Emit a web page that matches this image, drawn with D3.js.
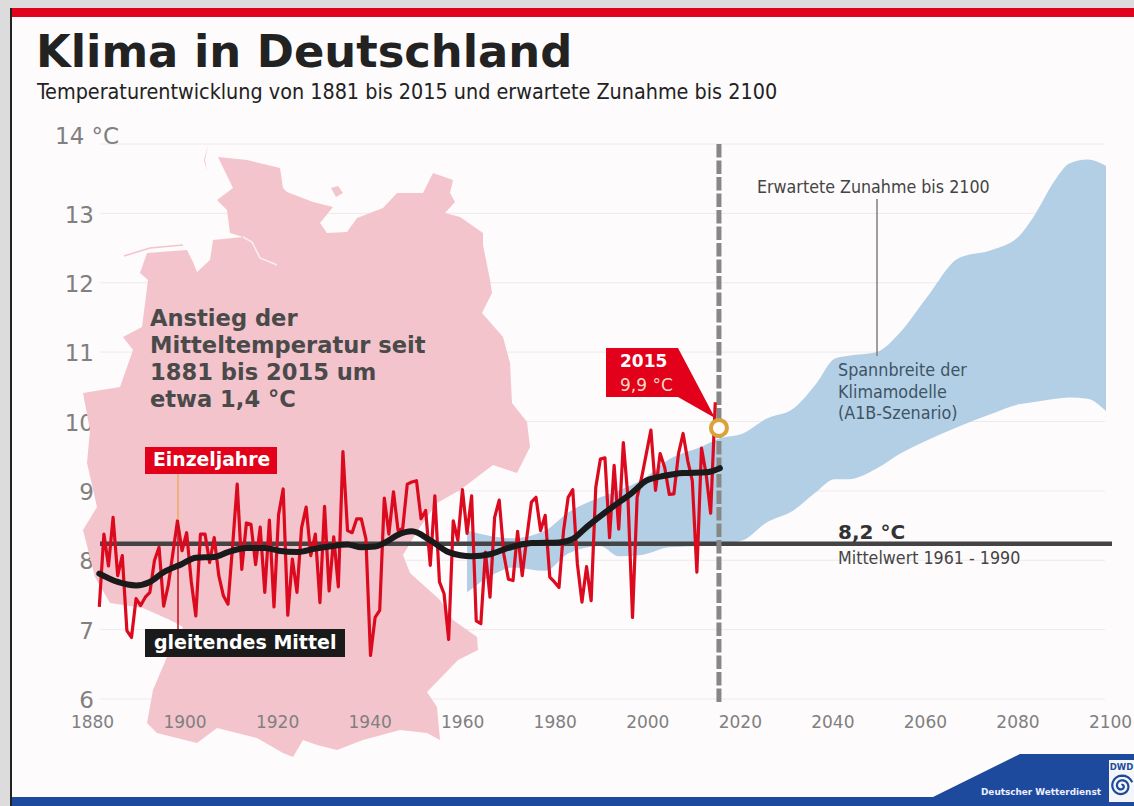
<!DOCTYPE html>
<html>
<head>
<meta charset="utf-8">
<script src="https://cdn.jsdelivr.net/npm/d3@7"></script>
<style>
  html, body { margin: 0; padding: 0; background: #dcdcdc; overflow: hidden; }
  svg { display: block; }
  text { font-family: "DejaVu Sans", sans-serif; }
  .cond { font-family: "DejaVu Sans Condensed", "DejaVu Sans", sans-serif; font-stretch: condensed; }
</style>
</head>
<body>
<script>
const w = 1134;
const h = 806;

// chart values
const firstYear = 1881;
const singleYears = [
  7.32, 8.37, 7.91, 8.61, 7.77, 8.06, 6.98, 6.88, 7.44, 7.34,
  7.46, 7.53, 7.99, 8.18, 7.33, 7.63, 8.09, 8.56, 8.13, 8.39,
  7.69, 7.19, 8.37, 8.37, 7.96, 8.32, 7.77, 7.48, 7.36, 8.20,
  9.09, 7.86, 8.53, 8.51, 7.93, 8.47, 7.53, 8.57, 7.32, 8.65,
  9.02, 7.20, 8.01, 7.53, 8.46, 8.76, 8.06, 8.37, 7.38, 8.77,
  7.55, 8.33, 7.61, 9.56, 8.42, 8.39, 8.59, 8.59, 8.30, 6.62,
  7.17, 7.27, 8.89, 8.37, 8.98, 8.42, 8.45,
  9.09, 9.12, 9.14, 8.59, 8.71, 7.92, 8.92, 7.68, 7.51, 6.85,
  8.56, 8.28, 9.01, 8.38, 8.92, 7.12, 7.08, 8.11, 7.46, 8.61,
  8.86, 8.08, 7.72, 7.70, 8.41, 7.77, 8.32, 8.83, 8.90, 8.42,
  8.64, 7.75, 7.68, 7.60, 8.42, 8.90, 9.01, 7.94, 7.39, 7.90,
  7.41, 9.04, 9.45, 9.47, 8.32, 9.36, 8.44, 9.69, 8.90, 7.17,
  8.90, 9.19, 9.53, 9.87, 9.00, 9.53, 9.33, 8.94, 8.95, 9.53,
  9.82, 9.43, 9.14, 7.82, 9.61, 9.24, 8.67, 10.27
];

const smoothYears = [
  1881, 1885, 1889, 1892, 1895, 1899, 1902, 1906, 1909, 1913, 1917, 1920,
  1924, 1928, 1931, 1935, 1938, 1941, 1944, 1946, 1949, 1953, 1957, 1962,
  1966, 1970, 1975, 1981, 1984, 1987, 1992, 1997, 2000, 2004, 2008, 2013, 2016
];
const smoothValues = [
  7.80, 7.68, 7.63, 7.68, 7.82, 7.94, 8.03, 8.04, 8.11, 8.17, 8.17, 8.13,
  8.11, 8.16, 8.19, 8.22, 8.18, 8.19, 8.28, 8.36, 8.41, 8.28, 8.11, 8.05,
  8.08, 8.17, 8.24, 8.25, 8.30, 8.47, 8.73, 8.97, 9.14, 9.21, 9.25, 9.26, 9.32
];

const bandYears = [
  1961, 1967, 1971, 1978, 1983, 1990, 1994, 1999, 2005, 2012, 2016, 2021, 2026, 2032,
  2037, 2041, 2044, 2050, 2055, 2061, 2068, 2075, 2081, 2084, 2089, 2092, 2096, 2100
];
const bandUpper = [
  8.42, 8.33, 8.31, 8.42, 8.68, 8.90, 9.00, 9.15, 9.45, 9.63, 9.75, 9.82, 10.03, 10.18,
  10.54, 10.90, 10.94, 10.99, 11.26, 11.78, 12.35, 12.46, 12.66, 12.92, 13.48, 13.71, 13.77, 13.68
];
const bandLower = [
  7.53, 7.80, 7.89, 7.84, 8.09, 8.20, 8.05, 8.07, 8.18, 8.20, 8.22, 8.28, 8.53, 8.71,
  8.98, 9.16, 9.16, 9.31, 9.52, 9.72, 9.92, 10.10, 10.24, 10.27, 10.32, 10.34, 10.32, 10.14
];

const meanValue = 8.23;
const highlightValue = 9.9;
const forecastYear = 2015.8;
const yearTicks = [1880, 1900, 1920, 1940, 1960, 1980, 2000, 2020, 2040, 2060, 2080, 2100];
const tempTicks = [6, 7, 8, 9, 10, 11, 12, 13, 14];

// map of Germany behind the chart, page pixels
const germany = [
  [218,157],[247,160],[280,168],[283,188],[287,192],[313,202],[333,207],[320,223],[327,233],[347,232],
  [357,218],[383,208],[397,193],[423,193],[433,173],[453,180],[450,193],[455,202],[445,213],[460,217],
  [483,233],[483,245],[490,280],[492,293],[482,313],[503,337],[510,363],[512,403],[527,422],[530,447],
  [517,473],[493,465],[460,490],[437,503],[418,530],[403,555],[410,573],[440,600],[453,620],[477,637],
  [478,650],[458,660],[427,692],[437,707],[440,740],[427,733],[400,730],[363,740],[337,750],[317,745],
  [303,740],[293,757],[283,753],[257,738],[217,728],[197,743],[157,733],[147,723],[153,690],[167,657],
  [183,627],[170,620],[143,608],[110,603],[95,577],[83,530],[97,507],[87,463],[90,430],[83,393],
  [120,387],[133,350],[123,337],[142,327],[148,280],[140,273],[147,253],[187,250],[193,262],[197,272],
  [210,260],[213,240],[243,237],[230,233],[227,210],[217,200],[233,188]
];
const fehmarn = [[331,188],[338,186],[343,193],[336,197]];
const sylt = [[208,145],[205,160],[207,172],[204,160]];
const frisia = [[124,256],[150,248],[183,245]];
const elbe = [[243,237],[252,242],[260,258],[277,265]];

const x = d3.scaleLinear().domain([1880, 2100]).range([94.7, 1106]);
const xLabels = d3.scaleLinear().domain([1880, 2100]).range([92, 1110]);
const y = d3.scaleLinear().domain([6, 14]).range([698.5, 143.5]);

const svg = d3.select("body").append("svg").attr("width", w).attr("height", h);

// page frame
svg.append("rect").attr("x", 12).attr("y", 8).attr("width", w - 12).attr("height", h - 8).attr("fill", "#fdfbfb");
svg.append("rect").attr("x", 10).attr("y", 8).attr("width", 2).attr("height", h - 8).attr("fill", "#222");
svg.append("rect").attr("x", 12).attr("y", 8).attr("width", w - 12).attr("height", 9).attr("fill", "#e2001a");

// footer
svg.append("polygon")
  .attr("points", [[12, 797], [933, 797], [1020, 754], [w, 754], [w, h], [12, h]].join(" "))
  .attr("fill", "#1d4a9c");
svg.append("text")
  .attr("x", 981).attr("y", 795)
  .attr("font-size", 8.9).attr("font-weight", "bold").attr("fill", "#eef")
  .text("Deutscher Wetterdienst");
svg.append("rect").attr("x", 1109).attr("y", 760).attr("width", 25).attr("height", 42).attr("fill", "#f4f6fa");
svg.append("text")
  .attr("x", 1121.5).attr("y", 770).attr("text-anchor", "middle")
  .attr("font-size", 8.5).attr("font-weight", "bold").attr("fill", "#1d4a9c")
  .text("DWD");
const spiral = d3.lineRadial()
  .angle((d) => d)
  .radius((d) => 1 + d * 0.75);
svg.append("path")
  .attr("transform", "translate(1121.5, 786)")
  .attr("d", spiral(d3.range(0, 14, 0.3)))
  .attr("fill", "none").attr("stroke", "#1d4a9c").attr("stroke-width", 2.2);

// title
svg.append("text")
  .attr("x", 36).attr("y", 67)
  .attr("font-size", 44.8).attr("font-weight", "bold").attr("fill", "#222")
  .text("Klima in Deutschland");
svg.append("text")
  .attr("class", "cond")
  .attr("x", 37).attr("y", 99)
  .attr("font-size", 21.36).attr("fill", "#222")
  .text("Temperaturentwicklung von 1881 bis 2015 und erwartete Zunahme bis 2100");

// y-axis with grid
const yAxis = d3.axisLeft(y)
  .tickValues(tempTicks)
  .tickSize(-1005)
  .tickPadding(6)
  .tickFormat((d) => (d === 14 ? "14 °C" : d));
const yGroup = svg.append("g").attr("transform", "translate(100, 0)").call(yAxis);
yGroup.select(".domain").remove();
yGroup.selectAll(".tick line").attr("stroke", "#eeeaea");
yGroup.selectAll(".tick text")
  .attr("font-family", "DejaVu Sans")
  .attr("font-size", 23)
  .attr("fill", "#808080")
  .attr("dy", "0.4em");
yGroup.selectAll(".tick")
  .filter((d) => d === 14)
  .select("text")
  .attr("text-anchor", "start")
  .attr("x", -45)
  .attr("y", -9);

// model range
const band = d3.area()
  .x((d) => x(d))
  .y0((d, i) => y(bandLower[i]))
  .y1((d, i) => y(bandUpper[i]))
  .curve(d3.curveMonotoneX);
svg.append("path").attr("d", band(bandYears)).attr("fill", "#b2cfe6");

// map
const outline = d3.line();
const mapColor = "#f3c4cc";
[germany, fehmarn, sylt].forEach((shape) => {
  svg.append("path").attr("d", outline(shape) + "Z").attr("fill", mapColor);
});
svg.append("path").attr("d", outline(frisia)).attr("fill", "none").attr("stroke", mapColor).attr("stroke-width", 1.5);
svg.append("path").attr("d", outline(elbe)).attr("fill", "none").attr("stroke", "#fbeef0").attr("stroke-width", 1.5);

// x-axis labels, on top of the map
const xAxis = d3.axisBottom(xLabels)
  .tickValues(yearTicks)
  .tickSize(0)
  .tickPadding(0)
  .tickFormat(d3.format("d"));
const xGroup = svg.append("g").attr("transform", "translate(0, 716)").call(xAxis);
xGroup.select(".domain").remove();
xGroup.selectAll(".tick text")
  .attr("font-family", "DejaVu Sans")
  .attr("font-size", 17)
  .attr("fill", "#808080");

// mean line
svg.append("line")
  .attr("x1", 100).attr("x2", 1112)
  .attr("y1", y(meanValue)).attr("y2", y(meanValue))
  .attr("stroke", "#444").attr("stroke-width", 4.5);

// 2015 divider
svg.append("line")
  .attr("x1", x(forecastYear)).attr("x2", x(forecastYear))
  .attr("y1", 144).attr("y2", 702)
  .attr("stroke", "#878787").attr("stroke-width", 5)
  .attr("stroke-dasharray", "13.5 3");

// callout behind the series
svg.append("polygon")
  .attr("points", [[606, 348], [678, 348], [715, 418], [678, 397], [606, 397]].join(" "))
  .attr("fill", "#e2001a");

// single years
const redLine = d3.line()
  .x((d, i) => x(firstYear + i))
  .y((d) => y(d));
svg.append("path")
  .attr("d", redLine(singleYears))
  .attr("fill", "none")
  .attr("stroke", "#dc0a1e")
  .attr("stroke-width", 3.2)
  .attr("stroke-linejoin", "round");

// leaders
svg.append("line").attr("x1", 178).attr("x2", 178).attr("y1", 474).attr("y2", 520).attr("stroke", "#e3a02c").attr("stroke-width", 1);
svg.append("line").attr("x1", 178).attr("x2", 178).attr("y1", 520).attr("y2", 630).attr("stroke", "#c8101f").attr("stroke-width", 1.5);

// moving average
const blackLine = d3.line()
  .x((d) => x(d))
  .y((d, i) => y(smoothValues[i]))
  .curve(d3.curveMonotoneX);
svg.append("path")
  .attr("d", blackLine(smoothYears))
  .attr("fill", "none")
  .attr("stroke", "#1a1a1a")
  .attr("stroke-width", 6)
  .attr("stroke-linecap", "round");

// 2015 marker
svg.append("circle")
  .attr("cx", x(forecastYear)).attr("cy", y(highlightValue)).attr("r", 8)
  .attr("fill", "#fdfbfb").attr("stroke", "#d9a33a").attr("stroke-width", 4);
svg.append("text").attr("x", 620).attr("y", 367).attr("font-size", 17).attr("font-weight", "bold").attr("fill", "#fff").text("2015");
svg.append("text").attr("x", 620).attr("y", 391).attr("font-size", 17).attr("fill", "#f6d9c0").text("9,9 °C");

// labels for the two lines
svg.append("rect").attr("x", 145).attr("y", 447).attr("width", 132).attr("height", 27).attr("fill", "#e2001a");
svg.append("text").attr("x", 153).attr("y", 466).attr("font-size", 18.8).attr("font-weight", "bold").attr("fill", "#fff").text("Einzeljahre");
svg.append("rect").attr("x", 145).attr("y", 629).attr("width", 200).attr("height", 28).attr("fill", "#1a1a1a");
svg.append("text").attr("x", 154).attr("y", 649).attr("font-size", 19).attr("font-weight", "bold").attr("fill", "#fff").text("gleitendes Mittel");

// note on the map
["Anstieg der", "Mitteltemperatur seit", "1881 bis 2015 um", "etwa 1,4 °C"].forEach((line, i) => {
  svg.append("text")
    .attr("x", 150).attr("y", 326 + i * 27)
    .attr("font-size", 22.6).attr("font-weight", "bold").attr("fill", "#4a4a4a")
    .text(line);
});

// notes on the right
svg.append("text").attr("class", "cond").attr("x", 757).attr("y", 193).attr("font-size", 17.7).attr("fill", "#444").text("Erwartete Zunahme bis 2100");
svg.append("line").attr("x1", 877).attr("x2", 877).attr("y1", 199).attr("y2", 356).attr("stroke", "#808080").attr("stroke-width", 1.5);
["Spannbreite der", "Klimamodelle", "(A1B-Szenario)"].forEach((line, i) => {
  svg.append("text")
    .attr("class", "cond")
    .attr("x", 838).attr("y", 376 + i * 21.5)
    .attr("font-size", 17.8).attr("fill", "#3f5464")
    .text(line);
});
svg.append("text").attr("x", 838).attr("y", 539).attr("font-size", 20).attr("font-weight", "bold").attr("fill", "#333").text("8,2 °C");
svg.append("text").attr("class", "cond").attr("x", 838).attr("y", 564).attr("font-size", 17.7).attr("fill", "#444").text("Mittelwert 1961 - 1990");
</script>
</body>
</html>
